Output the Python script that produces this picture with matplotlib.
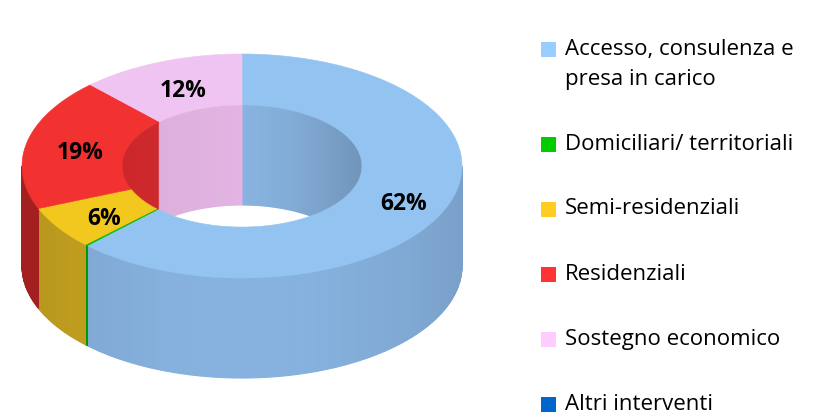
import numpy as np
import matplotlib
matplotlib.use("Agg")
import matplotlib.pyplot as plt
from matplotlib.patches import Polygon, Rectangle
from matplotlib.colors import to_rgb

# data (percent of total)
categories = ["Accesso, consulenza e\npresa in carico", "Domiciliari/ territoriali",
              "Semi-residenziali", "Residenziali", "Sostegno economico", "Altri interventi"]
values = [62.4, 0.2, 6.2, 19.1, 12.1, 0.0]
labels = ["62%", "", "6%", "19%", "12%", ""]

top_colors = ["#93c3f0", "#00c000", "#f2c81e", "#f23131", "#f0c4f2", "#0066cc"]
side_colors = ["#87b2df", "#00a000", "#c9a620", "#b42323", "#d8a8d8", "#0055aa"]
inner_colors = ["#88b3e0", "#00a800", "#d0ac20", "#d42a2e", "#e3b4e3", "#0058b0"]
legend_colors = ["#99ccff", "#00cc00", "#ffcc22", "#ff3333", "#ffccff", "#0066cc"]

# geometry of the 3d ring, in pixels
cx, cy = 242, 166
a_out, b_out = 220, 112
hole = 0.545
depth = 100

plt.rcParams['font.family'] = ['Open Sans', 'DejaVu Sans']

fig = plt.figure(figsize=(8.27, 4.16), dpi=100)
ax = fig.add_axes([0, 0, 1, 1])
ax.set_xlim(0, 827)
ax.set_ylim(416, 0)
ax.axis("off")

a_in, b_in = a_out * hole, b_out * hole
total = sum(values)
bounds = 90 - 360 * np.concatenate([[0], np.cumsum(values)]) / total


def shade(color, f):
    return tuple(min(1, c * f) for c in to_rgb(color))


def strips(t0, t1, step=0.5):
    n = max(2, int(abs(t0 - t1) / step) + 1)
    return np.radians(np.linspace(t0, t1, n))


# inner wall, back half (seen through the hole)
for i, v in enumerate(values):
    if v <= 0:
        continue
    th = strips(bounds[i], bounds[i + 1], step=1.0)
    for ta, tb in zip(th[:-1], th[1:]):
        tm = (ta + tb) / 2
        if np.sin(tm) <= 0:
            continue
        xa, xb = cx + a_in * np.cos(ta), cx + a_in * np.cos(tb)
        ya, yb = cy - b_in * np.sin(ta), cy - b_in * np.sin(tb)
        f = 1.0 - 0.17 * max(np.cos(tm), 0) ** 1.5 - 0.04 * max(-np.cos(tm), 0)
        c = shade(inner_colors[i], f)
        ax.add_patch(Polygon([(xa, ya), (xb, yb), (xb, yb + depth), (xa, ya + depth)],
                             closed=True, fc=c, ec=c, lw=0.8))

# outer wall, front half
for i, v in enumerate(values):
    if v <= 0:
        continue
    th = strips(bounds[i], bounds[i + 1], step=1.0)
    for ta, tb in zip(th[:-1], th[1:]):
        tm = (ta + tb) / 2
        if np.sin(tm) >= 0:
            continue
        xa, xb = cx + a_out * np.cos(ta), cx + a_out * np.cos(tb)
        ya, yb = cy - b_out * np.sin(ta), cy - b_out * np.sin(tb)
        f = 1.0 - 0.10 * abs(np.cos(tm)) ** 2
        c = shade(side_colors[i], f)
        ax.add_patch(Polygon([(xa, ya), (xb, yb), (xb, yb + depth), (xa, ya + depth)],
                             closed=True, fc=c, ec=c, lw=0.8))

# top face
for i, v in enumerate(values):
    if v <= 0:
        continue
    th = strips(bounds[i], bounds[i + 1], step=0.25)
    outer = np.column_stack([cx + a_out * np.cos(th), cy - b_out * np.sin(th)])
    inner = np.column_stack([cx + a_in * np.cos(th), cy - b_in * np.sin(th)])[::-1]
    ax.add_patch(Polygon(np.vstack([outer, inner]), closed=True,
                         fc=top_colors[i], ec=top_colors[i], lw=0.4))

# percent labels, middle of each slice
for i, lab in enumerate(labels):
    if not lab:
        continue
    tm = np.radians((bounds[i] + bounds[i + 1]) / 2)
    r = (1 + hole) / 2
    ax.text(cx + a_out * r * np.cos(tm) + 4, cy - b_out * r * np.sin(tm) + 5, lab,
            ha="center", va="center", fontsize=16.5, fontweight="bold", color="black")

# legend
leg_x, leg_y, row_gap, line_gap = 541, 49, 65, 30
y = leg_y
for name, col in zip(categories, legend_colors):
    ax.add_patch(Rectangle((leg_x, y - 7.5), 15, 15, fc=col, ec="none"))
    lines = name.split("\n")
    for k, ln in enumerate(lines):
        ax.text(leg_x + 24, y + k * line_gap, ln, ha="left", va="center",
                fontsize=16, color="black")
    y += row_gap + (len(lines) - 1) * line_gap

fig.savefig("out.png", dpi=100)
